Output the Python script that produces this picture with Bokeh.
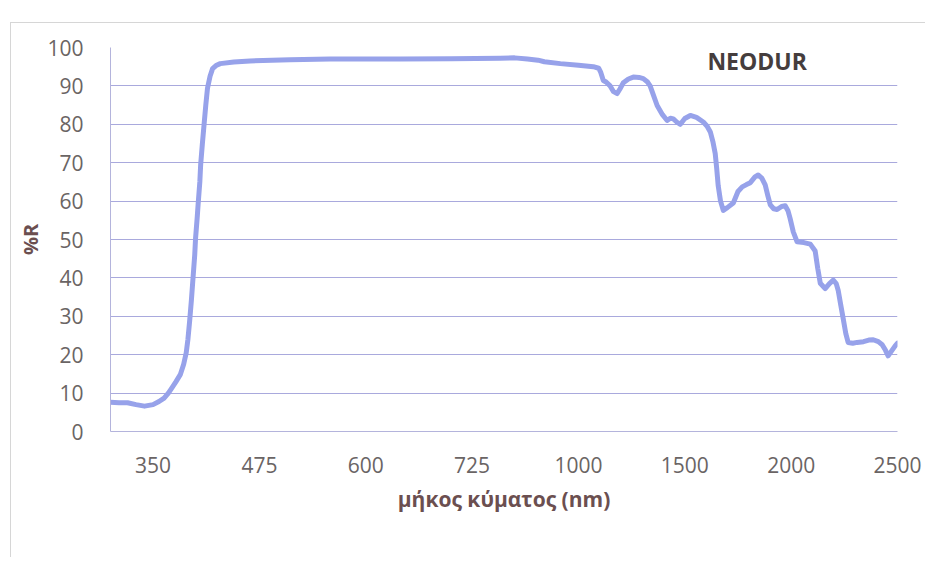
import numpy as np
from bokeh.plotting import figure
from bokeh.models import Label, FixedTicker, Range1d
from bokeh.embed import file_html
from bokeh.resources import INLINE

# ---- data ----
wavelength_nm = [300, 310, 320, 330, 340, 350, 357, 363, 368, 372, 377, 382, 386, 389, 391, 393,
                 395, 397, 399, 400, 402, 403, 405, 406, 408, 410, 412, 414, 417, 420, 424, 429,
                 445, 464, 511, 558, 641, 700, 758, 775, 790, 810, 840, 915, 1000, 1070, 1095,
                 1105, 1117, 1130, 1149, 1165, 1182, 1195, 1211, 1235, 1258, 1285, 1305, 1325,
                 1337, 1350, 1370, 1395, 1417, 1432, 1446, 1462, 1479, 1500, 1526, 1555, 1587,
                 1605, 1620, 1632, 1643, 1650, 1657, 1668, 1681, 1700, 1728, 1750, 1770, 1790,
                 1808, 1830, 1845, 1862, 1878, 1890, 1902, 1918, 1934, 1955, 1972, 1985, 1995,
                 2010, 2028, 2060, 2090, 2113, 2125, 2137, 2160, 2180, 2198, 2212, 2221, 2233,
                 2245, 2257, 2268, 2290, 2310, 2340, 2365, 2386, 2410, 2428, 2443, 2456, 2470,
                 2489, 2500]
reflectance_pct = [7.6, 7.5, 7.5, 7.0, 6.6, 7.0, 7.8, 8.7, 10.0, 11.3, 13.0, 14.8, 17.5, 20.5, 24.0, 28.7,
                   34.0, 40.0, 46.0, 50.4, 56.0, 59.2, 65.0, 69.6, 75.0, 80.0, 85.0, 89.4, 92.5, 94.5, 95.3, 95.8,
                   96.2, 96.5, 96.8, 97.0, 97.0, 97.1, 97.2, 97.3, 97.0, 96.7, 96.3, 95.8, 95.4, 95.0, 94.6,
                   93.5, 91.4, 91.0, 90.0, 88.5, 88.0, 89.2, 90.8, 91.8, 92.3, 92.2, 91.9, 91.0,
                   90.0, 88.0, 84.9, 82.5, 81.0, 81.6, 81.4, 80.6, 80.0, 81.5, 82.3, 81.8, 80.6,
                   79.5, 78.0, 75.5, 72.4, 68.5, 64.0, 60.0, 57.6, 58.3, 59.5, 62.5, 63.7, 64.3,
                   64.8, 66.3, 66.8, 66.0, 64.2, 61.5, 59.0, 58.0, 57.8, 58.6, 58.8, 57.5, 55.5,
                   52.0, 49.4, 49.2, 48.8, 47.0, 42.5, 38.6, 37.2, 38.5, 39.4, 38.5, 36.8, 33.0,
                   29.3, 25.5, 23.2, 23.0, 23.2, 23.4, 23.8, 23.9, 23.4, 22.6, 21.2, 19.7, 20.8,
                   22.3, 23.0]
x_tick_labels = [350, 475, 600, 725, 1000, 1500, 2000, 2500]
y_ticks = [0, 10, 20, 30, 40, 50, 60, 70, 80, 90, 100]

# Excel-style category axis: 1 nm steps up to 800 nm, 4 nm steps beyond
cat_wl = [300, 800, 2500]
cat_pos = [-0.4, 3.6, 7.0]


def to_pos(w):
    return np.interp(np.asarray(w, dtype=float), cat_wl, cat_pos)


xs = to_pos(wavelength_nm)
tick_pos = to_pos(x_tick_labels)

p = figure(width=915, height=535, output_backend="svg", toolbar_location=None,
           x_range=Range1d(cat_pos[0], cat_pos[-1]), y_range=Range1d(0, 100),
           min_border_left=99, min_border_right=29, min_border_top=24, min_border_bottom=127,
           styles={"margin-left": "10px", "margin-top": "22px",
                   "border-left": "1px solid #d6d6d6", "border-top": "1px solid #d6d6d6"})
p.outline_line_color = None
p.background_fill_color = "white"
p.border_fill_color = "white"

p.line(xs, reflectance_pct, line_color="#97a2ea", line_width=5, line_join="round", line_cap="round")

FONT = "Open Sans"
p.xaxis.ticker = FixedTicker(ticks=list(tick_pos))
p.xaxis.major_label_overrides = {float(t): str(l) for t, l in zip(tick_pos, x_tick_labels)}
p.yaxis.ticker = FixedTicker(ticks=y_ticks)

for ax in (p.xaxis, p.yaxis):
    ax.major_tick_line_color = None
    ax.minor_tick_line_color = None
    ax.major_tick_out = 0
    ax.major_tick_in = 0
    ax.axis_line_color = "#b4b4dc"
    ax.major_label_text_font = FONT
    ax.major_label_text_font_size = "21px"
    ax.major_label_text_color = "#6a6464"
    ax.axis_label_text_font = FONT
    ax.axis_label_text_font_style = "bold"
    ax.axis_label_text_color = "#6b4f50"

p.xaxis.axis_label = "μήκος κύματος (nm)"
p.yaxis.axis_label = "%R"
p.xaxis.axis_label_text_font_size = "21px"
p.yaxis.axis_label_text_font_size = "20px"
p.xaxis.major_label_standoff = 25
p.xaxis.axis_label_standoff = 9
p.yaxis.major_label_standoff = 27
p.yaxis.axis_label_standoff = 0

p.xgrid.grid_line_color = None
p.ygrid.grid_line_color = "#a9a9dd"
p.ygrid.grid_line_width = 1.2

p.add_layout(Label(x=5.68, y=96.6, text="NEODUR", text_align="center", text_baseline="middle",
                   text_font=FONT, text_font_style="bold", text_font_size="23px",
                   text_color="#453d3d"))

open("out.html", "w").write(file_html(p, INLINE))
